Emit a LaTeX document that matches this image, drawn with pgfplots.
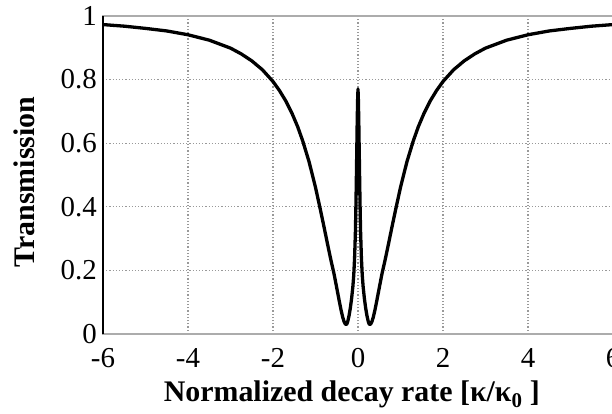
\documentclass[border=0pt]{standalone}
\usepackage{pgfplots}
\pgfplotsset{compat=1.18}
\usepackage{fontspec}
\setmainfont{Liberation Serif}
\begin{document}
\begin{tikzpicture}
\begin{axis}[
  at={(0,0)}, anchor=south west,
  scale only axis, width=510bp, height=318bp,
  xmin=-6, xmax=6, ymin=0, ymax=1,
  xtick={-6,-4,-2,0,2,4,6}, xticklabels={-6,-4,-2,0,2,4,6},
  ytick={0,0.2,0.4,0.6,0.8,1}, yticklabels={0,0.2,0.4,0.6,0.8,1},
  major tick length=0pt,
  grid=major,
  major grid style={gray!80, line width=1.2bp, dash pattern=on 1.2bp off 2bp},
  axis line style={gray!65, line width=1.8bp},
  tick label style={font=\fontsize{29}{31}\selectfont, inner sep=0pt},
  xticklabel style={yshift=-14bp},
  yticklabel style={xshift=-6bp},
  xlabel={\textbf{Normalized decay rate [κ/κ\textsubscript{0} ]}},
  ylabel={\textbf{Transmission}},
  label style={font=\fontsize{30}{32}\selectfont},
  xlabel style={at={(axis description cs:0.488,-0.2138)}, anchor=base},
  ylabel style={at={(axis description cs:-0.1335,0.478)}, anchor=base},
  clip=false,
]
\addplot[black, line width=3.3bp, line join=round] coordinates {
(-6.00,0.973) (-5.50,0.968) (-5.00,0.961) (-4.50,0.953) (-4.00,0.941)
(-3.50,0.924) (-3.00,0.899) (-2.75,0.881) (-2.50,0.859) (-2.25,0.831)
(-2.00,0.794) (-1.85,0.766) (-1.70,0.733) (-1.55,0.693) (-1.42,0.652)
(-1.30,0.607) (-1.15,0.541) (-1.00,0.461) (-0.89,0.394) (-0.80,0.337)
(-0.70,0.272) (-0.63,0.228) (-0.565,0.190) (-0.50,0.145) (-0.45,0.110)
(-0.40,0.076) (-0.36,0.053) (-0.33,0.040) (-0.30,0.032) (-0.28,0.030)
(-0.26,0.032) (-0.24,0.040)
(-0.21,0.058) (-0.18,0.082) (-0.15,0.112) (-0.12,0.150) (-0.10,0.185)
(-0.08,0.240) (-0.06,0.325) (-0.05,0.395) (-0.04,0.475) (-0.03,0.565)
(-0.02,0.655) (-0.01,0.732) (0.00,0.770)
(0.01,0.732) (0.02,0.655) (0.03,0.565) (0.04,0.475) (0.05,0.395)
(0.06,0.325) (0.08,0.240) (0.10,0.185) (0.12,0.150) (0.15,0.112)
(0.18,0.082) (0.21,0.058)
(0.24,0.040) (0.26,0.032) (0.28,0.030) (0.30,0.032) (0.33,0.040)
(0.36,0.053) (0.40,0.076) (0.45,0.110) (0.50,0.145) (0.565,0.190)
(0.63,0.228) (0.70,0.272) (0.80,0.337) (0.89,0.394) (1.00,0.461)
(1.15,0.541) (1.30,0.607) (1.42,0.652) (1.55,0.693) (1.70,0.733)
(1.85,0.766) (2.00,0.794) (2.25,0.831) (2.50,0.859) (2.75,0.881)
(3.00,0.899) (3.50,0.924) (4.00,0.941) (4.50,0.953) (5.00,0.961)
(5.50,0.968) (6.00,0.973)
};
\draw[black, line width=2.2bp] (rel axis cs:0,0) -- (rel axis cs:0,1);
\end{axis}
\pgfresetboundingbox
\useasboundingbox (-103bp,-80bp) rectangle (509bp,334bp);
\end{tikzpicture}
\end{document}
